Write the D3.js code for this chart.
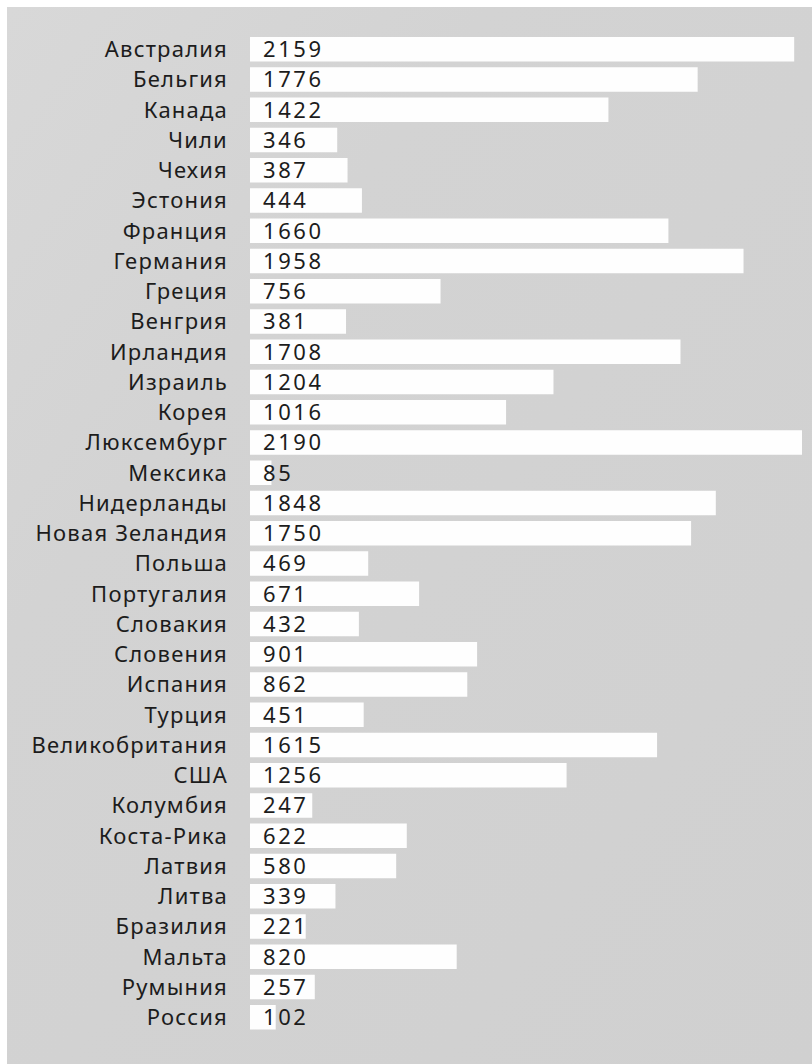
<!DOCTYPE html>
<html>
<head>
<meta charset="utf-8">
<script src="https://cdn.jsdelivr.net/npm/d3@7/dist/d3.min.js"></script>
<style>
  html, body { margin: 0; padding: 0; background: #ffffff; }
  svg { display: block; }
</style>
</head>
<body>
<svg id="chart" width="812" height="1064"></svg>
<script>
// Country names, top to bottom
const countries = [
  "Австралия", "Бельгия", "Канада", "Чили", "Чехия", "Эстония", "Франция",
  "Германия", "Греция", "Венгрия", "Ирландия", "Израиль", "Корея", "Люксембург",
  "Мексика", "Нидерланды", "Новая Зеландия", "Польша", "Португалия", "Словакия",
  "Словения", "Испания", "Турция", "Великобритания", "США", "Колумбия",
  "Коста-Рика", "Латвия", "Литва", "Бразилия", "Мальта", "Румыния", "Россия"
];

// Value for each country, same order
const values = [
  2159, 1776, 1422, 346, 387, 444, 1660,
  1958, 756, 381, 1708, 1204, 1016, 2190,
  85, 1848, 1750, 469, 671, 432,
  901, 862, 451, 1615, 1256, 247,
  622, 580, 339, 221, 820, 257, 102
];

const rows = countries.map((c, i) => ({ country: c, value: values[i] }));

const W = 812, H = 1064;
const svg = d3.select("#chart");

// Backdrop: grey sheet with a narrow white edge on the top and left
const defs = svg.append("defs");
const grad = defs.append("linearGradient")
  .attr("id", "sheet").attr("x1", "0").attr("y1", "0").attr("x2", "1").attr("y2", "1");
grad.append("stop").attr("offset", "0").attr("stop-color", "#d8d8d8");
grad.append("stop").attr("offset", "0.3").attr("stop-color", "#d3d3d3");
grad.append("stop").attr("offset", "1").attr("stop-color", "#d0d0d0");

svg.append("rect").attr("width", W).attr("height", H).attr("fill", "#ffffff");
svg.append("rect").attr("x", 7).attr("y", 7).attr("width", W - 7).attr("height", H - 7)
  .attr("fill", "url(#sheet)");

const step = 30.25, inner = 0.19;
const firstBarTop = 37;
const y = d3.scaleBand()
  .domain(countries)
  .range([firstBarTop - step * inner / 2, firstBarTop - step * inner / 2 + step * countries.length])
  .paddingInner(inner)
  .paddingOuter(inner / 2);

const x = d3.scaleLinear()
  .domain([0, d3.max(values)])
  .range([250, 802]);

const font = "'Noto Sans', 'DejaVu Sans', sans-serif";

// Bars
svg.append("g").selectAll("rect")
  .data(rows)
  .join("rect")
  .attr("x", x(0))
  .attr("y", d => y(d.country))
  .attr("width", d => x(d.value) - x(0))
  .attr("height", y.bandwidth())
  .attr("fill", "#fefefe");

// Country labels, right-aligned to the left of the bars
svg.append("g").selectAll("text")
  .data(rows)
  .join("text")
  .attr("x", 228)
  .attr("y", d => y(d.country) + y.bandwidth() / 2)
  .attr("dy", "0.36em")
  .attr("text-anchor", "end")
  .attr("font-family", font)
  .attr("font-size", 22)
  .attr("letter-spacing", 1.2)
  .attr("fill", "#1c1c1c")
  .text(d => d.country);

// Values written at the start of each bar
svg.append("g").selectAll("text")
  .data(rows)
  .join("text")
  .attr("x", x(0) + 13)
  .attr("y", d => y(d.country) + y.bandwidth() / 2)
  .attr("dy", "0.36em")
  .attr("font-family", font)
  .attr("font-size", 22)
  .attr("letter-spacing", 2.6)
  .attr("fill", "#1c1c1c")
  .text(d => d.value);
</script>
</body>
</html>
